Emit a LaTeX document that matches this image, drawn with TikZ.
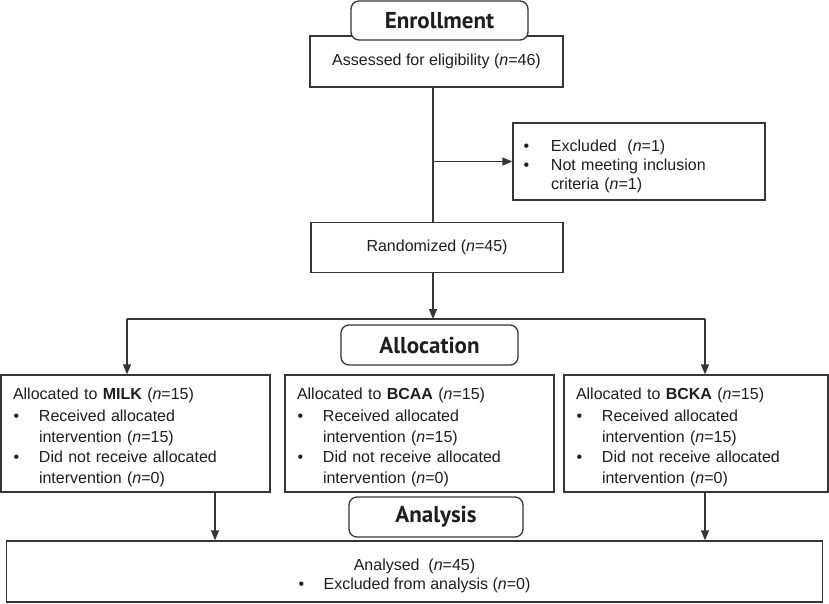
\documentclass[tikz,border=0pt]{standalone}
\usepackage{fontspec}
\setmainfont{Liberation Sans}
\newfontfamily\hdrfont{PT Sans}
\usetikzlibrary{arrows.meta}
\definecolor{ln}{HTML}{363636}
\definecolor{tx}{HTML}{1E1E1E}
\newcommand\nn{\textit{n}}
\newcommand\bul[1]{\makebox[#1][l]{\hspace*{0.5pt}•}}
\newcommand\topstrut[1]{\rule{0pt}{#1}}
\begin{document}
\begin{tikzpicture}[x=1pt,y=-1pt,
  boxst/.style={draw=ln, line width=1.3pt, fill=white, inner sep=0pt, text=tx,
    font=\fontsize{16}{20.5}\selectfont},
  hdrst/.style={boxst, rounded corners=8pt, font=\hdrfont\bfseries\fontsize{23}{24}\selectfont},
  lst/.style={boxst, align=left},
  arr/.style={draw=ln, line width=1.3pt, -{Triangle[length=10pt,width=8pt]}},
  lnst/.style={draw=ln, line width=1.3pt}]
\useasboundingbox (0,0) rectangle (829,603);
\coordinate (v) at (433,0);
\coordinate (la) at (127,319);
\coordinate (ra) at (705,319);
\coordinate (lb) at (215,0);
\coordinate (rb) at (705,0);
% Enrollment
\node[boxst, minimum width=253pt, minimum height=51pt] (assess) at (436.5,61.5)
  {\raisebox{3pt}{Assessed for eligibility (\nn=46)}};
\node[hdrst, minimum width=177pt, minimum height=39pt] (enroll) at (439.5,20.5) {Enrollment};
\node[lst, minimum width=252pt, minimum height=77pt, text width=232pt,
  font=\fontsize{16}{19}\selectfont] (excl) at (639,161.5)
  {\topstrut{21.5pt}\bul{28pt}Excluded~~(\nn=1)\\
   \bul{28pt}Not meeting inclusion\\
   \hspace*{28pt}criteria (\nn=1)};
\node[boxst, minimum width=252pt, minimum height=50pt] (rand) at (437,247.5)
  {Randomized (\nn=45)};
% Allocation
\node[hdrst, minimum width=177pt, minimum height=40pt] (alloc) at (429.5,345) {Allocation};
\node[lst, minimum width=269pt, minimum height=117pt, text width=245pt] (milk) at (135.5,433.5)
  {\topstrut{19pt}Allocated to \textbf{MILK} (\nn=15)\\[1.5pt]
   \bul{26pt}Received allocated\\
   \hspace*{26pt}intervention (\nn=15)\\
   \bul{26pt}Did not receive allocated\\
   \hspace*{26pt}intervention (\nn=0)};
\node[lst, minimum width=269pt, minimum height=117pt, text width=245pt] (bcaa) at (419.5,433.5)
  {\topstrut{19pt}Allocated to \textbf{BCAA} (\nn=15)\\[1.5pt]
   \bul{26pt}Received allocated\\
   \hspace*{26pt}intervention (\nn=15)\\
   \bul{26pt}Did not receive allocated\\
   \hspace*{26pt}intervention (\nn=0)};
\node[lst, minimum width=264pt, minimum height=117pt, text width=240pt] (bcka) at (696,433.5)
  {\topstrut{19pt}Allocated to \textbf{BCKA} (\nn=15)\\[1.5pt]
   \bul{26pt}Received allocated\\
   \hspace*{26pt}intervention (\nn=15)\\
   \bul{26pt}Did not receive allocated\\
   \hspace*{26pt}intervention (\nn=0)};
% Analysis
\node[hdrst, minimum width=174pt, minimum height=40pt] (analysis) at (436,517) {Analysis};
\node[boxst, align=center, minimum width=816pt, minimum height=61pt,
  font=\fontsize{16}{19}\selectfont] (analysed) at (414.5,571.5)
  {\topstrut{21pt}Analysed~~(\nn=45)\\ \makebox[25pt][l]{•}Excluded from analysis (\nn=0)};
% connectors
\draw[lnst] (assess.south -| v) -- (rand.north -| v);
\draw[arr] (v |- excl.west) -- (excl.west);
\draw[arr] (rand.south -| v) -- (v |- la);
\draw[lnst] (la) -- (ra);
\draw[arr] (la) -- (la |- milk.north);
\draw[arr] (ra) -- (ra |- bcka.north);
\draw[arr] (milk.south -| lb) -- (analysed.north -| lb);
\draw[arr] (bcka.south -| rb) -- (analysed.north -| rb);
\end{tikzpicture}
\end{document}
